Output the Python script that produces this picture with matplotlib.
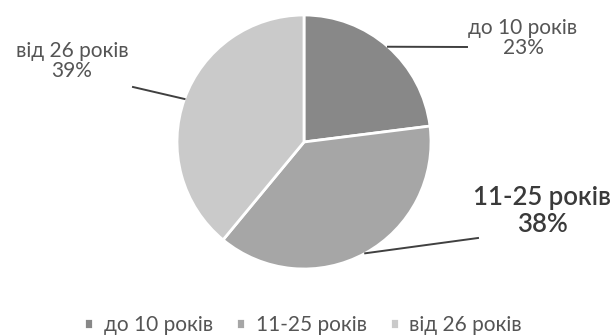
import matplotlib
matplotlib.use('Agg')
import matplotlib.pyplot as plt
import numpy as np

categories = ['до 10 років', '11-25 років', 'від 26 років']
shares = [23, 38, 39]
colors = ['#888888', '#a6a6a6', '#cacaca']

plt.rcParams['font.family'] = ['Lato', 'DejaVu Sans']

fig = plt.figure(figsize=(6.11, 3.36), dpi=100)
ax = fig.add_axes([0, 0, 1, 1])

cx, cy, r = 304, 336 - 142, 127
wedges, _ = ax.pie(shares, colors=colors, startangle=90, counterclock=False,
                   center=(cx, cy), radius=r, frame=True,
                   wedgeprops=dict(edgecolor='white', linewidth=2))
ax.set_xlim(0, 611)
ax.set_ylim(0, 336)
ax.set_aspect('equal')
ax.axis('off')

# label text position, leader end, style
label_pos = [(523, 298), (542, 125), (72, 275)]
line_end = [(467, 289), (478, 98), (133, 249)]
sizes = [15, 18.5, 15]
tcolors = ['#555555', '#3a3a3a', '#555555']
weights = ['normal', 'semibold', 'normal']
spacing = [0.95, 1.1, 0.95]

for i, w in enumerate(wedges):
    mid = np.deg2rad((w.theta1 + w.theta2) / 2)
    sx, sy = cx + r * np.cos(mid), cy + r * np.sin(mid)
    lx, ly = line_end[i]
    ax.plot([sx, lx], [sy, ly], color='#404040', lw=1.4)
    tx, ty = label_pos[i]
    ax.text(tx, ty, f'{categories[i]}\n{shares[i]}%', ha='center', va='center',
            fontsize=sizes[i], color=tcolors[i], fontweight=weights[i],
            linespacing=spacing[i])

ax.legend(wedges, categories, loc='center', bbox_to_anchor=(303 / 611, 1 - 325 / 336),
          ncol=3, frameon=False, fontsize=15, labelcolor='#555555',
          handlelength=0.45, handleheight=0.45, handletextpad=0.5, columnspacing=1.1)

fig.savefig('out.png', dpi=100)
